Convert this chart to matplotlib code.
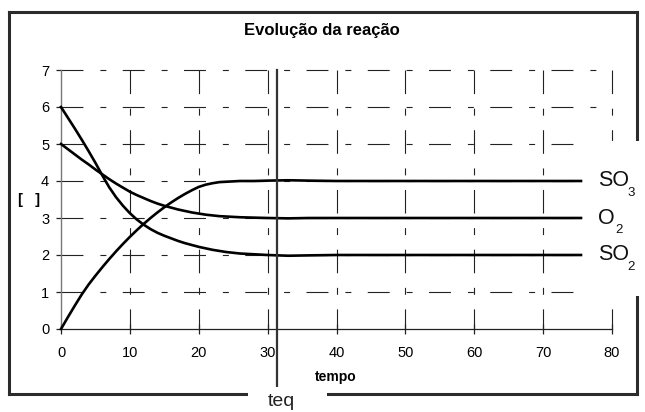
import matplotlib
matplotlib.use("Agg")
import matplotlib.pyplot as plt
from matplotlib.lines import Line2D
from matplotlib.patches import Rectangle
from matplotlib.transforms import offset_copy

plt.rcParams['font.family'] = ['Liberation Sans', 'DejaVu Sans']
plt.rcParams['lines.scale_dashes'] = False

# ---- data ----
tempo = [0, 1, 2, 3, 4, 5, 6, 7, 8, 9, 10, 11, 12, 13, 14, 15, 16, 17, 18, 19, 20,
         21, 22, 23, 24, 25, 26, 28, 30, 33, 36, 40, 75.5]
so2 = [6.00, 5.71, 5.42, 5.12, 4.81, 4.49, 4.15, 3.83, 3.56, 3.33, 3.13, 2.96, 2.82,
       2.70, 2.60, 2.52, 2.45, 2.38, 2.32, 2.27, 2.22, 2.18, 2.14, 2.11, 2.08, 2.06,
       2.04, 2.02, 2.00, 1.98, 1.99, 2.00, 2.00]
o2 = [5.00, 4.86, 4.72, 4.58, 4.45, 4.31, 4.18, 4.05, 3.93, 3.82, 3.71, 3.62, 3.54,
      3.46, 3.39, 3.33, 3.28, 3.23, 3.19, 3.15, 3.12, 3.09, 3.07, 3.05, 3.04, 3.03,
      3.02, 3.01, 3.00, 2.99, 3.00, 3.00, 3.00]
so3 = [0.00, 0.32, 0.63, 0.93, 1.20, 1.44, 1.67, 1.89, 2.10, 2.30, 2.49, 2.67, 2.84,
       3.00, 3.15, 3.29, 3.42, 3.54, 3.65, 3.75, 3.84, 3.90, 3.94, 3.97, 3.98, 3.99,
       4.00, 4.00, 4.01, 4.02, 4.01, 4.00, 4.00]
series_names = [("SO", "3"), ("O", "2"), ("SO", "2")]
t_eq = 31.4
x_ticks = [0, 10, 20, 30, 40, 50, 60, 70, 80]
y_ticks = [0, 1, 2, 3, 4, 5, 6, 7]

W, H = 645, 412
fig = plt.figure(figsize=(W / 100, H / 100), dpi=100)

def fx(px):
    return px / W

def fy(py):
    return 1 - py / H

ax = fig.add_axes([fx(61), fy(329), fx(612) - fx(61), fy(70) - fy(329)])
ax.set_xlim(0, 80)
ax.set_ylim(0, 7)

for s in ['top', 'right']:
    ax.spines[s].set_visible(False)
ax.spines['left'].set_color('#777777')
ax.spines['left'].set_linewidth(1.0)
ax.spines['bottom'].set_color('#222222')
ax.spines['bottom'].set_linewidth(0.9)

ax.set_xticks(x_ticks)
ax.set_yticks(y_ticks)
ax.tick_params(axis='x', direction='inout', length=7, width=0.9, color='#222222',
               labelsize=10.5, pad=9)
ax.tick_params(axis='y', direction='out', length=3.5, width=0.9, color='#222222',
               labelsize=10.5, pad=5)

grid_col = '#222222'
for yv in y_ticks[1:]:
    ax.plot([0, 80], [yv, yv], color=grid_col, lw=0.8,
            dashes=[15.8, 12.2, 4.3, 11.8], zorder=1, clip_on=False)
for xv in x_ticks[1:]:
    ax.plot([xv, xv], [7, 0], color=grid_col, lw=0.8,
            dashes=[17, 10.5, 5, 10.5], zorder=1, clip_on=False)

for ys in (so3, o2, so2):
    ax.plot(tempo, ys, color='black', lw=1.9, zorder=3, clip_on=False,
            solid_joinstyle='round')

trans = ax.get_xaxis_transform()
ax.plot([t_eq, t_eq], [1.0, -0.22], color='#333333', lw=1.6, transform=trans,
        clip_on=False, zorder=4)

# outer frame
fc = '#2b2b2b'
flw = 2.2
segs = [
    ([9, 9], [12, 394]),
    ([9, 637], [12, 12]),
    ([637, 637], [12, 394]),
    ([9, 637], [394, 394]),
]
for xs, ys in segs:
    fig.add_artist(Line2D([fx(v) for v in xs], [fy(v) for v in ys], color=fc, lw=flw,
                          solid_capstyle='projecting', zorder=1))

# white label boxes (series labels and teq)
fig.add_artist(Rectangle((fx(585), fy(296)), fx(645) - fx(585), fy(141) - fy(296),
                         transform=fig.transFigure, facecolor='white', edgecolor='none',
                         zorder=2))
fig.add_artist(Rectangle((fx(248), fy(412)), fx(327) - fx(248), fy(387) - fy(412),
                         transform=fig.transFigure, facecolor='white', edgecolor='none',
                         zorder=2))

# series labels
for (base, sub), ys in zip(series_names, (so3, o2, so2)):
    tr_b = offset_copy(ax.transData, fig=fig, x=12.0, y=0, units='points')
    fig.text(tempo[-1], ys[-1], base, transform=tr_b, fontsize=15.5, va='center',
             ha='left', color='#111111', zorder=3)
    sub_off = 12.0 + (21.5 if base == 'SO' else 12.5)
    tr_s = offset_copy(ax.transData, fig=fig, x=sub_off, y=-8.8, units='points')
    fig.text(tempo[-1], ys[-1], sub, transform=tr_s, fontsize=9.5, va='center',
             ha='left', color='#111111', zorder=3)

fig.text(fx(281), fy(402), 'teq', fontsize=14, ha='center', va='center',
         color='#222222', zorder=3)
fig.text(fx(322), fy(30), 'Evolução da reação', fontsize=12, fontweight='bold',
         ha='center', va='center', zorder=3)
fig.text(fx(336), fy(377), 'tempo', fontsize=10, fontweight='bold',
         ha='center', va='center', zorder=3)
fig.text(fx(29), fy(200), '[   ]', fontsize=10.5, fontweight='bold',
         ha='center', va='center', zorder=3)

fig.savefig('out.png', dpi=100)
